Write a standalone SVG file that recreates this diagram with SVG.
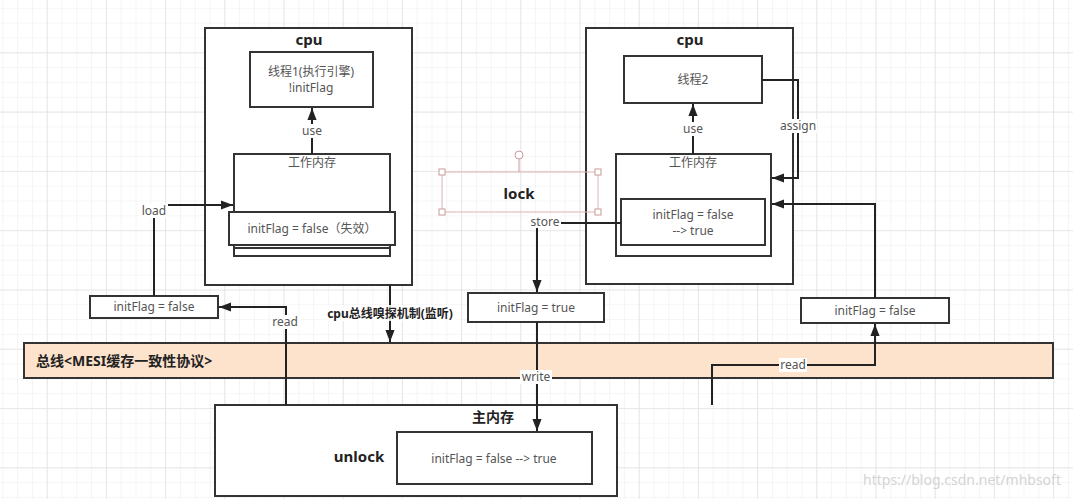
<svg xmlns="http://www.w3.org/2000/svg" width="1073" height="499" viewBox="0 0 1073 499">
<style>
text{font-family:"Noto Sans","Noto Sans CJK SC",sans-serif;fill:#555;font-size:12px;text-anchor:middle}
.b{font-weight:bold;fill:#222}
.box{fill:#fff;stroke:#333;stroke-width:2}
.ln{fill:none;stroke:#222;stroke-width:2}
.lbl{fill:#fff}
.h{fill:#fff;stroke:#c99;stroke-width:1}
</style>
<defs>
<pattern id="gm" width="14.8" height="14.82" patternUnits="userSpaceOnUse" patternTransform="translate(46.7,52.3)">
<path d="M0,0H14.8M0,0V14.82" stroke="#ededed" stroke-width="1.2" fill="none"/>
</pattern>
<pattern id="gM" width="59.2" height="59.3" patternUnits="userSpaceOnUse" patternTransform="translate(46.7,52.3)">
<path d="M0,0H59.2M0,0V59.3" stroke="#e2e2e2" stroke-width="1.5" fill="none"/>
</pattern>
<marker id="ar" viewBox="0 0 10 10" refX="10" refY="5" markerWidth="6" markerHeight="6" orient="auto">
<path d="M0,1.2L10,5L0,8.8z" fill="#222"/>
</marker>
</defs>
<rect width="1073" height="499" fill="#fff"/>
<rect width="1073" height="499" fill="url(#gm)"/>
<rect width="1073" height="499" fill="url(#gM)"/>

<g id="cpu1">
<rect class="box" x="205" y="28" width="207" height="257"/>
<text class="b" x="309" y="45" style="font-size:15px">cpu</text>
</g>
<g id="thread1">
<rect class="box" x="250" y="52" width="123" height="55"/>
<text x="311" y="76">线程1(执行引擎)</text>
<text x="311" y="92">!initFlag</text>
</g>
<g id="wm1">
<rect class="box" x="234" y="154" width="156" height="102"/>
<line x1="234" y1="248" x2="390" y2="248" stroke="#333" stroke-width="2"/>
<text x="312" y="167">工作内存</text>
</g>
<g id="flag1">
<rect class="box" x="229" y="212" width="166" height="33"/>
<text x="312" y="233">initFlag = false（失效）</text>
</g>

<g id="cpu2">
<rect class="box" x="586" y="28" width="207" height="256"/>
<text class="b" x="690" y="45" style="font-size:15px">cpu</text>
</g>
<g id="thread2">
<rect class="box" x="624" y="56" width="138" height="47"/>
<text x="693" y="84">线程2</text>
</g>
<g id="wm2">
<rect class="box" x="616" y="154" width="155" height="102"/>
<text x="693" y="167">工作内存</text>
</g>
<g id="flag2">
<rect class="box" x="621" y="199" width="144" height="46"/>
<text x="693" y="219">initFlag = false</text>
<text x="693" y="235">--&gt; true</text>
</g>

<g id="lock">
<rect x="442" y="172" width="156" height="40" fill="none" stroke="#dcb4b4" stroke-width="1"/>
<line x1="519" y1="159" x2="519" y2="172" stroke="#c99" stroke-width="1"/>
<circle cx="519" cy="155" r="4" class="h"/>
<rect class="h" x="439" y="169" width="6" height="6"/>
<rect class="h" x="595" y="169" width="6" height="6"/>
<rect class="h" x="439" y="209" width="6" height="6"/>
<rect class="h" x="595" y="209" width="6" height="6"/>
<text class="b" x="519" y="199" style="font-size:15px">lock</text>
</g>

<g id="lflag">
<rect class="box" x="90" y="296" width="128" height="22"/>
<text x="154" y="311">initFlag = false</text>
</g>
<g id="mflag">
<rect class="box" x="468" y="293" width="136" height="29"/>
<text x="536" y="312">initFlag = true</text>
</g>
<g id="rflag">
<rect class="box" x="801" y="298" width="148" height="25"/>
<text x="875" y="315">initFlag = false</text>
</g>

<g id="bus">
<rect x="24" y="343" width="1029" height="35" fill="#fde3cc" stroke="#333" stroke-width="2"/>
<text class="b" x="36" y="366" style="font-size:14px;text-anchor:start">总线&lt;MESI缓存一致性协议&gt;</text>
</g>

<g id="mainmem">
<rect class="box" x="215" y="405" width="402" height="91"/>
<text class="b" x="493" y="422" style="font-size:14px">主内存</text>
<text class="b" x="359" y="462" style="font-size:15px">unlock</text>
</g>
<g id="mflagmain">
<rect class="box" x="397" y="432" width="195" height="52"/>
<text x="494" y="463">initFlag = false --&gt; true</text>
</g>

<g id="connectors">
<path class="ln" d="M312,154V108" marker-end="url(#ar)"/>
<rect class="lbl" x="300" y="124" width="24" height="14"/>
<text x="312" y="135">use</text>

<path class="ln" d="M693,154V104" marker-end="url(#ar)"/>
<rect class="lbl" x="681" y="122" width="24" height="14"/>
<text x="693" y="133">use</text>

<path class="ln" d="M762,80H798V178H772" marker-end="url(#ar)"/>
<rect class="lbl" x="779" y="119" width="38" height="14"/>
<text x="798" y="130">assign</text>

<path class="ln" d="M154,296V205H233" marker-end="url(#ar)"/>
<rect class="lbl" x="140" y="204" width="28" height="14"/>
<text x="154" y="215">load</text>

<path class="ln" d="M875,298V204H772" marker-end="url(#ar)"/>

<path class="ln" d="M286,405V307H219" marker-end="url(#ar)"/>
<rect class="lbl" x="271" y="315" width="30" height="14"/>
<text x="285" y="326">read</text>

<path class="ln" d="M390,285V342" marker-end="url(#ar)"/>
<rect class="lbl" x="322" y="305" width="136" height="16" fill="#fff" fill-opacity="0.85"/>
<text class="b" x="390" y="318">cpu总线嗅探机制(监听)</text>

<path class="ln" d="M621,223H537V292" marker-end="url(#ar)"/>
<rect class="lbl" x="529" y="215" width="32" height="13"/>
<text x="545" y="226">store</text>

<path class="ln" d="M537,322V431" marker-end="url(#ar)"/>
<rect class="lbl" x="520" y="370" width="32" height="14"/>
<text x="536" y="381">write</text>

<path class="ln" d="M712,405V365H875V324" marker-end="url(#ar)"/>
<rect class="lbl" x="779" y="358" width="28" height="14"/>
<text x="793" y="369">read</text>
</g>

<text x="962" y="485" style="font-size:14px;fill:#d4d4d4">https://blog.csdn.net/mhbsoft</text>
</svg>
